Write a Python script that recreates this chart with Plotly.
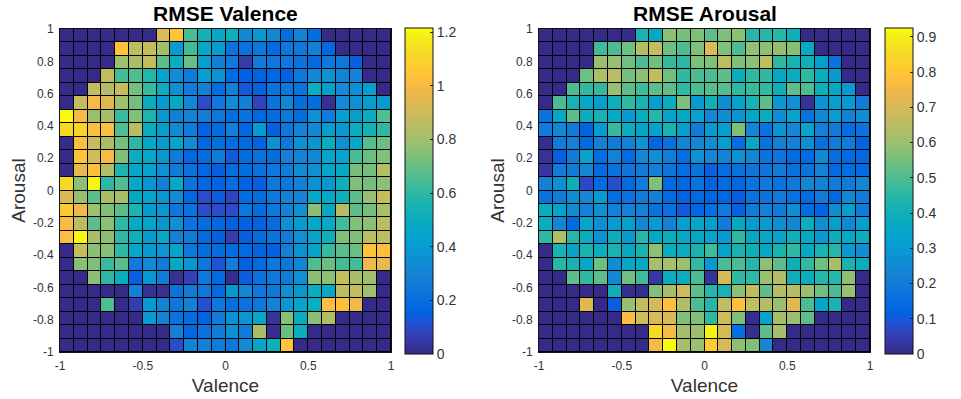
import numpy as np
import plotly.graph_objects as go

# RMSE per valence/arousal cell, top row (arousal = 1) first
valence_rmse = [
    [0, 0, 0, 0, 0, 0, 0, .93, 1.04, .65, .54, .47, .52, .32, .38, .32, .20, .30, .20, 0, 0, 0, 0, 0],
    [0, 0, 0, 0, 1.04, .86, .88, .80, .40, .64, .47, .40, .22, .22, .24, .19, .24, .24, .28, .17, 0, 0, 0, 0],
    [0, 0, 0, 0, .80, .82, .87, .68, .50, .70, .42, .28, .25, .05, .26, .24, .24, .22, .19, .24, .24, .15, 0, 0],
    [0, 0, 0, .87, .64, .66, .58, .44, .34, .26, .42, .36, .18, .15, .16, .17, .15, .24, .32, .36, .30, .30, 0, 0],
    [0, 0, .88, .84, .88, .72, .62, .50, .36, .26, .28, .20, .28, .13, .15, .22, .24, .22, .50, .42, .33, .36, .42, 0],
    [0, .88, 1.0, .93, .80, .72, .50, .40, .48, .32, .10, .24, .33, .28, .08, .22, .32, .20, .20, .02, .33, .36, .42, .40],
    [1.22, 1.0, .78, .82, .62, .74, .56, .38, .28, .30, .28, .24, .20, .22, .17, .20, .24, .20, .36, .26, .42, .42, .50, .66],
    [1.12, 1.10, 1.02, 1.02, .66, .85, .50, .42, .34, .26, .16, .20, .28, .17, .40, .15, .24, .30, .32, .42, .38, .50, .54, .60],
    [0, 1.02, .88, .82, .72, .60, .46, .40, .44, .33, .17, .20, .20, .18, .16, .36, .24, .36, .38, .50, .36, .47, .67, .70],
    [0, 1.04, .90, 1.0, .74, .50, .47, .38, .26, .17, .20, .26, .13, .20, .22, .20, .28, .30, .32, .45, .44, .65, .70, .74],
    [0, .96, 1.03, .84, .56, .46, .44, .36, .26, .22, .17, .15, .20, .20, .22, .24, .26, .34, .36, .44, .48, .72, .72, .84],
    [1.12, .76, 1.20, .60, .66, .46, .38, .28, .46, .22, .17, .16, .20, .16, .15, .24, .24, .28, .36, .38, .52, .74, .72, .76],
    [.92, .78, .68, .82, .82, .48, .44, .38, .34, .17, .10, .14, .08, .20, .20, .24, .30, .30, .46, .46, .52, .68, .78, .88],
    [1.06, .98, .80, .74, .68, .56, .40, .38, .24, .22, .10, .10, .10, .24, .20, .24, .30, .36, .76, .48, .84, .68, .72, .82],
    [1.0, .86, .68, .76, .60, .46, .44, .38, .36, .22, .20, .17, .15, .16, .16, .20, .36, .40, .46, .46, .64, .74, .76, .85],
    [1.02, 1.20, .82, .76, .60, .52, .40, .46, .28, .26, .18, .15, .06, .15, .20, .22, .26, .36, .44, .52, .74, .74, .86, .86],
    [0, .88, .76, .76, .60, .46, .40, .38, .44, .24, .20, .20, .20, .18, .16, .15, .28, .36, .44, .62, .68, .70, 1.04, 1.02],
    [0, .76, .74, .62, .68, .25, .34, .26, .48, .38, .24, .12, .28, .15, .18, .24, .24, .32, .66, .70, .64, .64, .98, .96],
    [0, 0, .76, .60, .50, .14, .38, .26, .02, .07, .24, .18, .01, .14, .22, .24, .26, .36, .76, .76, .88, .82, .80, 0],
    [0, 0, 0, 0, 0, .28, .02, .02, .22, .26, .24, .18, .38, .32, .24, .24, .36, .38, .50, .46, .86, .88, .80, 0],
    [0, 0, 0, .66, 0, .06, .40, .30, .24, .28, .11, .24, .20, .22, .24, .30, .38, .44, .50, 1.02, 1.03, .98, 0, 0],
    [0, 0, 0, 0, 0, 0, .40, .30, .22, .20, .16, .26, .36, .38, .46, .03, .76, .50, .76, .84, 0, 0, 0, 0],
    [0, 0, 0, 0, 0, 0, 0, 0, .28, .17, .22, .27, .36, .26, .82, .01, .70, .50, 0, 0, 0, 0, 0, 0],
    [0, 0, 0, 0, 0, 0, 0, 0, .10, .30, .28, .26, .24, .33, .45, .52, 1.04, 0, 0, 0, 0, 0, 0, 0],
]

arousal_rmse = [
    [0, 0, 0, 0, 0, 0, 0, .42, .36, .58, .55, .56, .52, .56, .58, .44, .44, .44, .40, 0, 0, 0, 0, 0],
    [0, 0, 0, 0, .48, .50, .54, .64, .67, .54, .50, .56, .71, .56, .50, .59, .58, .59, .57, .36, 0, 0, 0, 0],
    [0, 0, 0, 0, .60, .60, .54, .50, .54, .47, .45, .56, .56, .66, .56, .58, .66, .46, .42, .40, .32, .17, 0, 0],
    [0, 0, 0, .54, .63, .65, .55, .58, .67, .54, .46, .50, .50, .52, .38, .46, .46, .36, .38, .46, .38, .30, 0, 0],
    [0, 0, .50, .46, .46, .60, .52, .48, .52, .52, .46, .50, .51, .51, .46, .47, .46, .40, .52, .50, .40, .36, .30, 0],
    [0, .50, .42, .36, .32, .40, .46, .42, .32, .38, .56, .30, .40, .26, .34, .42, .52, .30, .27, .02, .28, .32, .30, .20],
    [.17, .36, .52, .38, .42, .36, .30, .38, .44, .34, .36, .33, .24, .26, .28, .34, .38, .26, .34, .17, .24, .32, .22, .26],
    [.20, .24, .20, .12, .30, .47, .38, .34, .33, .42, .32, .20, .30, .32, .56, .24, .17, .28, .24, .34, .22, .20, .15, .17],
    [.01, .20, .22, .14, .22, .20, .22, .28, .13, .16, .24, .24, .26, .32, .15, .36, .17, .22, .22, .26, .16, .20, .20, .12],
    [.02, .11, .20, .34, .15, .22, .14, .24, .27, .21, .15, .28, .24, .22, .28, .24, .17, .18, .14, .14, .25, .15, .14, .13],
    [.03, .20, .20, .24, .14, .17, .18, .20, .22, .18, .15, .17, .11, .15, .16, .18, .18, .20, .16, .17, .22, .14, .15, .14],
    [.22, .27, .40, .07, .14, .08, .14, .20, .56, .14, .13, .17, .12, .14, .13, .17, .19, .17, .19, .24, .22, .20, .20, .24],
    [.16, .20, .26, .24, .30, .15, .17, .20, .22, .14, .12, .14, .12, .13, .11, .17, .17, .20, .16, .14, .20, .13, .24, .20],
    [.38, .34, .26, .22, .27, .22, .22, .22, .17, .16, .10, .13, .15, .20, .12, .20, .22, .20, .26, .14, .12, .26, .32, .20],
    [.38, .24, .14, .34, .26, .30, .32, .24, .30, .22, .32, .34, .32, .20, .36, .30, .30, .26, .24, .38, .26, .32, .24, .32],
    [.46, .63, .44, .38, .28, .38, .30, .44, .36, .38, .36, .36, .34, .30, .46, .36, .36, .34, .40, .36, .30, .38, .36, .38],
    [0, .42, .34, .42, .38, .42, .36, .42, .58, .38, .38, .42, .48, .34, .42, .40, .36, .42, .46, .36, .42, .44, .30, .26],
    [0, .44, .42, .36, .54, .26, .36, .36, .62, .62, .60, .46, .30, .50, .50, .44, .58, .52, .40, .46, .54, .62, .42, .38],
    [0, 0, .52, .46, .52, .25, .54, .48, .03, .38, .38, .50, .02, .70, .46, .46, .60, .64, .40, .38, .44, .44, .58, 0],
    [0, 0, 0, 0, 0, .40, .01, .01, .56, .62, .68, .52, .44, .42, .58, .66, .52, .64, .64, .60, .54, .50, .60, 0],
    [0, 0, 0, .72, 0, .11, .60, .66, .70, .78, .64, .50, .44, .66, .78, .66, .64, .60, .72, .50, .34, .42, 0, 0],
    [0, 0, 0, 0, 0, 0, .77, .68, .70, .70, .56, .56, .46, .68, .56, .01, .33, .62, .60, .52, 0, 0, 0, 0],
    [0, 0, 0, 0, 0, 0, 0, 0, .86, .76, .62, .60, .91, .70, .15, .01, .52, .62, 0, 0, 0, 0, 0, 0],
    [0, 0, 0, 0, 0, 0, 0, 0, .76, .93, .62, .60, .82, .70, .58, .56, .24, 0, 0, 0, 0, 0, 0, 0],
]

axis_ticks = [-1, -0.8, -0.6, -0.4, -0.2, 0, 0.2, 0.4, 0.6, 0.8, 1]
axis_tick_labels = ['-1', '-0.8', '-0.6', '-0.4', '-0.2', '0', '0.2', '0.4', '0.6', '0.8', '1']
x_ticks = [-1, -0.5, 0, 0.5, 1]
x_tick_labels = ['-1', '-0.5', '0', '0.5', '1']
valence_cbar_ticks = [0, 0.2, 0.4, 0.6, 0.8, 1, 1.2]
valence_cbar_labels = ['0', '0.2', '0.4', '0.6', '0.8', '1', '1.2']
arousal_cbar_ticks = [0, 0.1, 0.2, 0.3, 0.4, 0.5, 0.6, 0.7, 0.8, 0.9]
arousal_cbar_labels = ['0', '0.1', '0.2', '0.3', '0.4', '0.5', '0.6', '0.7', '0.8', '0.9']
valence_zmax = 1.215
arousal_zmax = 0.925

# MATLAB parula, 64 steps
parula = [
    (.2081, .1663, .5292), (.2116, .1898, .5777), (.2123, .2138, .6270), (.2081, .2386, .6771),
    (.1959, .2645, .7279), (.1707, .2919, .7792), (.1253, .3242, .8303), (.0591, .3598, .8683),
    (.0117, .3875, .8820), (.0060, .4086, .8828), (.0165, .4266, .8786), (.0329, .4430, .8720),
    (.0498, .4586, .8641), (.0629, .4737, .8554), (.0723, .4887, .8467), (.0779, .5040, .8384),
    (.0793, .5200, .8312), (.0749, .5375, .8263), (.0641, .5570, .8240), (.0488, .5772, .8228),
    (.0343, .5966, .8199), (.0265, .6137, .8135), (.0239, .6287, .8038), (.0231, .6418, .7913),
    (.0228, .6535, .7768), (.0267, .6642, .7607), (.0384, .6743, .7436), (.0590, .6838, .7254),
    (.0843, .6928, .7062), (.1133, .7015, .6859), (.1453, .7098, .6646), (.1801, .7177, .6424),
    (.2178, .7250, .6193), (.2586, .7317, .5954), (.3022, .7376, .5712), (.3482, .7424, .5473),
    (.3953, .7459, .5244), (.4420, .7481, .5033), (.4871, .7491, .4840), (.5300, .7491, .4661),
    (.5709, .7485, .4494), (.6099, .7473, .4337), (.6473, .7456, .4188), (.6834, .7435, .4044),
    (.7184, .7411, .3905), (.7525, .7384, .3768), (.7858, .7356, .3633), (.8185, .7327, .3498),
    (.8507, .7299, .3360), (.8824, .7274, .3217), (.9139, .7258, .3063), (.9450, .7261, .2886),
    (.9739, .7314, .2666), (.9938, .7455, .2403), (.9990, .7653, .2164), (.9955, .7861, .1967),
    (.9880, .8066, .1794), (.9789, .8271, .1633), (.9697, .8481, .1475), (.9626, .8705, .1309),
    (.9589, .8949, .1132), (.9598, .9218, .0948), (.9661, .9514, .0755), (.9763, .9831, .0538),
]
colorscale = [[i / 63, f'rgb({r * 255:.0f},{g * 255:.0f},{b * 255:.0f})'] for i, (r, g, b) in enumerate(parula)]

W, H = 961, 399
FONT = 'Liberation Sans'
# plot area in page pixels: the paper runs from the left panel edge to just past the last colorbar labels
LEFT, RIGHT, TOP, BOTTOM = 60, 945, 29, 352
CBAR_TOP, CBAR_BOTTOM = 28, 354
edges = np.linspace(-1, 1, 25)


def px_x(v):
    return (v - LEFT) / (RIGHT - LEFT)


def px_y(v):
    return (BOTTOM - v) / (BOTTOM - TOP)


def make_heatmap(rows, zmax, xaxis, yaxis, cbar_left, ticks, labels):
    return go.Heatmap(
        z=rows[::-1], x=edges, y=edges, xaxis=xaxis, yaxis=yaxis,
        colorscale=colorscale, zmin=0, zmax=zmax, xgap=1, ygap=1,
        colorbar=dict(
            x=px_x(cbar_left), xanchor='left', xpad=0, y=px_y(CBAR_BOTTOM), yanchor='bottom', ypad=0,
            len=(CBAR_BOTTOM - CBAR_TOP) / (BOTTOM - TOP), thickness=28, outlinecolor='#111111', outlinewidth=1,
            tickmode='array', tickvals=ticks, ticktext=labels, ticks='inside', ticklen=3,
            tickcolor='#222222', tickfont=dict(family=FONT, size=14, color='#333333'),
        ),
    )


fig = go.Figure()
fig.add_trace(make_heatmap(valence_rmse, valence_zmax, 'x', 'y', 405, valence_cbar_ticks, valence_cbar_labels))
fig.add_trace(make_heatmap(arousal_rmse, arousal_zmax, 'x2', 'y2', 885, arousal_cbar_ticks, arousal_cbar_labels))

common = dict(
    range=[-1, 1], showgrid=False, zeroline=False, showline=True, mirror=True,
    linecolor='#111111', linewidth=1, ticks='outside', ticklen=3, tickcolor='rgba(0,0,0,0)',
    tickfont=dict(family=FONT, size=12, color='#333333'),
)
x_common = dict(common, tickmode='array', tickvals=x_ticks, ticktext=x_tick_labels,
                title=dict(text='Valence', standoff=6, font=dict(family=FONT, size=19, color='#333333')))
y_common = dict(common, tickmode='array', tickvals=axis_ticks, ticktext=axis_tick_labels,
                title=dict(text='Arousal', standoff=2, font=dict(family=FONT, size=19, color='#333333')))

fig.update_layout(
    width=W, height=H,
    margin=dict(l=LEFT, r=W - RIGHT, t=TOP, b=H - BOTTOM, autoexpand=False),
    paper_bgcolor='white', plot_bgcolor='black',
    xaxis=dict(x_common, domain=[0, px_x(391)], anchor='y'),
    yaxis=dict(y_common, domain=[0, 1], anchor='x'),
    xaxis2=dict(x_common, domain=[px_x(539), px_x(870)], anchor='y2'),
    yaxis2=dict(y_common, domain=[0, 1], anchor='x2'),
)
for title, center in [('RMSE Valence', 225.5), ('RMSE Arousal', 704.5)]:
    fig.add_annotation(text=f'<b>{title}</b>', x=px_x(center), y=px_y(13), xref='paper', yref='paper',
                       xanchor='center', yanchor='middle', showarrow=False,
                       font=dict(family=FONT, size=21, color='black'))

# drop the page's default body margin so the figure fills the window, and keep the modebar away
fig.write_html("out.html", config={'displayModeBar': False},
               post_script="document.body.style.margin = '0';")
